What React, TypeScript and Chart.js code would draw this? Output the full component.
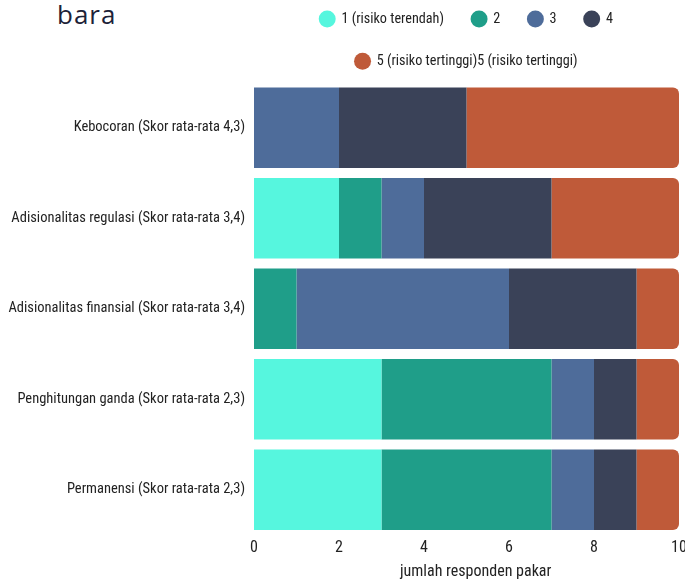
import React, { useEffect, useRef } from "react";
import { Chart, registerables } from "chart.js";

Chart.register(...registerables);

const categories = [
  "Kebocoran (Skor rata-rata 4,3)",
  "Adisionalitas regulasi (Skor rata-rata 3,4)",
  "Adisionalitas finansial (Skor rata-rata 3,4)",
  "Penghitungan ganda (Skor rata-rata 2,3)",
  "Permanensi (Skor rata-rata 2,3)",
];
const seriesNames = [
  "1 (risiko terendah)",
  "2",
  "3",
  "4",
  "5 (risiko tertinggi)5 (risiko tertinggi)",
];
const risk1 = [0, 2, 0, 3, 3];
const risk2 = [0, 1, 1, 4, 4];
const risk3 = [2, 1, 5, 1, 1];
const risk4 = [3, 3, 3, 1, 1];
const risk5 = [5, 3, 1, 1, 1];
const seriesColors = ["#56f6de", "#1f9e89", "#4e6c9a", "#3a4258", "#bf5a39"];
const xTicks = [0, 2, 4, 6, 8, 10];
const xTitle = "     jumlah responden pakar";
const titleText = "bara";

const FONT = "'Roboto Condensed', 'Roboto', sans-serif";

export default function App() {
  const ref = useRef<HTMLCanvasElement | null>(null);
  useEffect(() => {
    if (!ref.current) return;
    const values = [risk1, risk2, risk3, risk4, risk5];
    const chart = new Chart(ref.current, {
      type: "bar",
      data: {
        labels: categories,
        datasets: values.map((v, i) => ({
          label: seriesNames[i],
          data: v,
          backgroundColor: seriesColors[i],
          borderWidth: 0,
          borderRadius: i === 4 ? 6 : 0,
          borderSkipped: "start",
          categoryPercentage: 0.89,
          barPercentage: 1,
        })),
      },
      options: {
        indexAxis: "y",
        responsive: false,
        animation: false,
        layout: { padding: { left: 6, right: 11, top: -16, bottom: 0 } },
        plugins: {
          title: {
            display: true,
            text: "",
            position: "top",
            fullSize: false,
            weight: 500,
            font: { size: 4, lineHeight: 1 },
            padding: 0,
          },
          tooltip: { enabled: false },
          legend: {
            position: "top",
            fullSize: false,
            labels: {
              usePointStyle: true,
              pointStyle: "circle",
              boxWidth: 14.2,
              boxHeight: 12,
              padding: 28,
              color: "#222",
              font: { family: FONT, size: 14.2 },
            },
          },
        },
        scales: {
          x: {
            stacked: true,
            min: 0,
            max: 10,
            grid: { display: false, drawTicks: false },
            border: { display: false },
            afterBuildTicks: (s: any) => {
              s.ticks = xTicks.map((v) => ({ value: v }));
            },
            afterFit: (s: any) => {
              s.height = 46;
              s.paddingLeft = 0;
              s.paddingRight = 0;
            },
            ticks: {
              color: "#222",
              font: { family: FONT, size: 16 },
              padding: 3,
            },
            title: {
              display: true,
              text: xTitle,
              color: "#222",
              font: { family: FONT, size: 16 },
              padding: { top: 4, bottom: -1 },
            },
          },
          y: {
            stacked: true,
            grid: { display: false, drawTicks: false },
            border: { display: false },
            afterFit: (s: any) => {
              s.width = 248;
            },
            ticks: {
              color: "#222",
              font: { family: FONT, size: 14.5 },
              padding: 9,
            },
          },
        },
      },
    });
    return () => chart.destroy();
  }, []);
  return (
    <div
      style={{
        position: "fixed",
        left: 0,
        top: 0,
        width: 685,
        height: 581,
        overflow: "hidden",
        background: "#fff",
      }}
    >
      <div
        style={{
          position: "absolute",
          left: 57,
          top: 1,
          fontFamily: "'Open Sans', sans-serif",
          fontSize: 26,
          lineHeight: "26px",
          letterSpacing: 1,
          color: "#1d2238",
        }}
      >
        {titleText}
      </div>
      <canvas
        ref={ref}
        width={690}
        height={581}
        style={{ position: "absolute", left: 0, top: 0 }}
      />
    </div>
  );
}
